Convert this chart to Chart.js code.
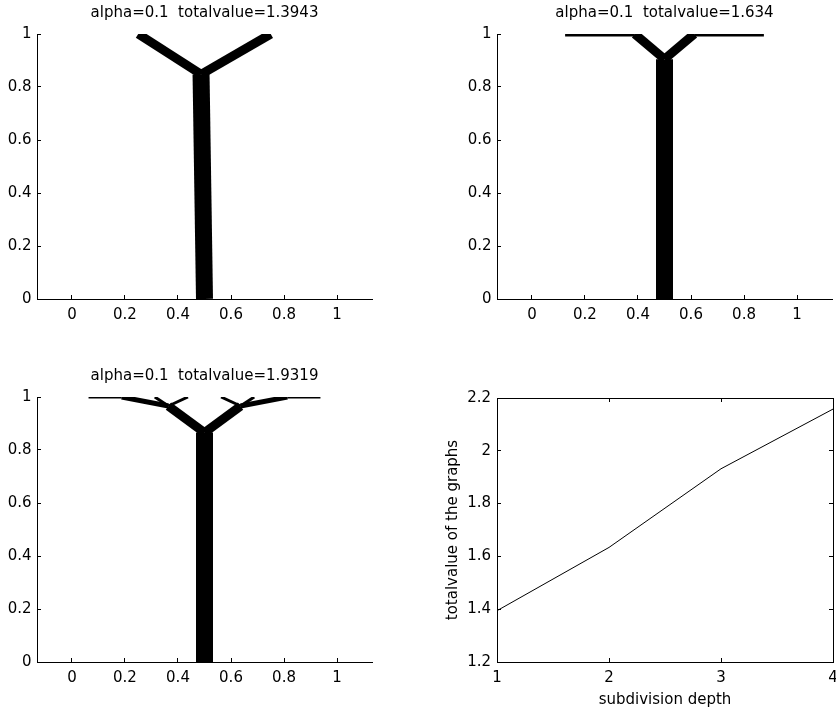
<!DOCTYPE html>
<html>
<head>
<meta charset="utf-8">
<script src="https://cdn.jsdelivr.net/npm/chart.js@4.4.1/dist/chart.umd.min.js"></script>
<style>
html, body { margin: 0; padding: 0; background: #fff; }
body { width: 836px; height: 712px; position: relative; overflow: hidden; }
canvas { position: absolute; }
</style>
</head>
<body>
<canvas id="c1" width="418" height="356" style="left:0px;top:0px"></canvas>
<canvas id="c2" width="418" height="356" style="left:418px;top:0px"></canvas>
<canvas id="c3" width="418" height="349" style="left:0px;top:363px"></canvas>
<canvas id="c4" width="418" height="349" style="left:418px;top:363px"></canvas>
<script>
// ---------------- DATA ----------------
const alphaValue = 0.1;
const depths = [1, 2, 3, 4];
const totalValues = [1.3943, 1.634, 1.9319, 2.158];

// tree segments: [x1, y1, x2, y2, mass]
const tree1Segments = [
  [0.5, 0, 0.487, 0.848, 1],
  [0.487, 0.848, 0.25, 1, 0.5],
  [0.487, 0.848, 0.75, 1, 0.5]
];
const tree2Segments = [
  [0.5, 0, 0.5, 0.905, 1],
  [0.5, 0.905, 0.388, 1, 0.5],
  [0.5, 0.905, 0.612, 1, 0.5],
  [0.388, 1, 0.125, 1, 0.25],
  [0.612, 1, 0.875, 1, 0.25]
];
const tree3Segments = [
  [0.5, 0, 0.5, 0.866, 1],
  [0.5, 0.866, 0.364, 0.966, 0.5],
  [0.5, 0.866, 0.636, 0.966, 0.5],
  [0.364, 0.966, 0.3125, 1, 0.125],
  [0.364, 0.966, 0.4375, 1, 0.125],
  [0.364, 0.966, 0.1875, 1, 0.25],
  [0.1875, 1, 0.0625, 1, 0.125],
  [0.636, 0.966, 0.5625, 1, 0.125],
  [0.636, 0.966, 0.6875, 1, 0.125],
  [0.636, 0.966, 0.8125, 1, 0.25],
  [0.8125, 1, 0.9375, 1, 0.125]
];

const treeXRange = [-0.132, 1.132];
const treeYRange = [0, 1];
const treeXTicks = [0, 0.2, 0.4, 0.6, 0.8, 1];
const treeXTickLabels = ['0', '0.2', '0.4', '0.6', '0.8', '1'];
const treeYTicks = [0, 0.2, 0.4, 0.6, 0.8, 1];
const treeYTickLabels = ['0', '0.2', '0.4', '0.6', '0.8', '1'];

const depthRange = [1, 4];
const depthTicks = [1, 2, 3, 4];
const depthTickLabels = ['1', '2', '3', '4'];
const valueRange = [1.2, 2.2];
const valueTicks = [1.2, 1.4, 1.6, 1.8, 2, 2.2];
const valueTickLabels = ['1.2', '1.4', '1.6', '1.8', '2', '2.2'];

const xAxisTitle = 'subdivision depth';
const yAxisTitle = 'totalvalue of the graphs';

// ---------------- STYLE / LAYOUT ----------------
Chart.defaults.font.family = '"DejaVu Sans", sans-serif';
Chart.defaults.font.size = 15;
Chart.defaults.color = '#000';
Chart.defaults.animation = false;

function widthFromMass(m) { return 1 + 16 * m; }

function fixedTicks(values) {
  return s => { s.ticks = values.map(v => ({ value: v })); };
}

function axis(opts) {
  const { pos, range, ticks, labels, size, showLabels, padding } = opts;
  const horizontal = pos === 'top' || pos === 'bottom';
  return {
    type: 'linear',
    position: pos,
    min: range[0],
    max: range[1],
    afterBuildTicks: fixedTicks(ticks),
    afterFit: s => {
      if (horizontal) s.height = size; else s.width = size;
      s.paddingLeft = 0; s.paddingRight = 0; s.paddingTop = 0; s.paddingBottom = 0;
    },
    ticks: {
      display: showLabels,
      autoSkip: false,
      maxRotation: 0,
      minRotation: 0,
      padding: padding,
      color: '#000',
      font: { size: 15 },
      callback: (v, i) => labels[i]
    },
    grid: { drawOnChartArea: false, drawTicks: true, tickLength: -4, color: '#000', lineWidth: 1 },
    border: { display: true, color: '#000', width: 1 }
  };
}

function treeChart(id, segments, total, padRight, canvasH) {
  const datasets = segments.map(s => ({
    data: [{ x: s[0], y: s[1] }, { x: s[2], y: s[3] }],
    showLine: true,
    borderColor: '#000',
    backgroundColor: '#000',
    borderWidth: widthFromMass(s[4]),
    borderCapStyle: 'butt',
    pointRadius: 0,
    pointHoverRadius: 0,
    fill: false,
    clip: 0
  }));
  return new Chart(document.getElementById(id), {
    type: 'scatter',
    data: { datasets },
    options: {
      responsive: false,
      animation: false,
      events: [],
      layout: { autoPadding: false, padding: { left: 0, right: padRight, top: 0, bottom: 0 } },
      plugins: {
        legend: { display: false },
        tooltip: { enabled: false },
        title: {
          display: true,
          text: 'alpha=' + alphaValue + '  totalvalue=' + total,
          fullSize: false,
          color: '#000',
          font: { size: 15, weight: 'normal' },
          padding: { top: 4, bottom: 12 }
        }
      },
      scales: {
        x: axis({ pos: 'bottom', range: treeXRange, ticks: treeXTicks, labels: treeXTickLabels, size: canvasH - 299, showLabels: true, padding: 11.5 }),
        y: axis({ pos: 'left', range: treeYRange, ticks: treeYTicks, labels: treeYTickLabels, size: 37 + (padRight === 46 ? 0 : 42), showLabels: true, padding: 9.5 })
      }
    }
  });
}

treeChart('c1', tree1Segments, totalValues[0], 46, 356);
treeChart('c2', tree2Segments, totalValues[1], 4, 356);
treeChart('c3', tree3Segments, totalValues[2], 46, 349);

// ---------------- line chart ----------------
const yMain = axis({ pos: 'left', range: valueRange, ticks: valueTicks, labels: valueTickLabels, size: 79, showLabels: true, padding: 10 });
yMain.title = { display: true, text: yAxisTitle, color: '#000', font: { size: 15 }, padding: { top: 26.5, bottom: 0 } };
const xMain = axis({ pos: 'bottom', range: depthRange, ticks: depthTicks, labels: depthTickLabels, size: 50, showLabels: true, padding: 11.5 });
xMain.title = { display: true, text: xAxisTitle, color: '#000', font: { size: 15 }, padding: { top: 0, bottom: 3 } };
const xTop = axis({ pos: 'top', range: depthRange, ticks: depthTicks, labels: depthTickLabels, size: 0, showLabels: false, padding: 0 });
const yRight = axis({ pos: 'right', range: valueRange, ticks: valueTicks, labels: valueTickLabels, size: 0, showLabels: false, padding: 0 });

new Chart(document.getElementById('c4'), {
  type: 'line',
  data: {
    datasets: [{
      data: depths.map((d, i) => ({ x: d, y: totalValues[i] })),
      borderColor: '#000',
      borderWidth: 1,
      pointRadius: 0,
      tension: 0,
      fill: false,
      xAxisID: 'x',
      yAxisID: 'y'
    }]
  },
  options: {
    responsive: false,
    animation: false,
    events: [],
    layout: { autoPadding: false, padding: { left: 0, right: 3, top: 35, bottom: 0 } },
    plugins: { legend: { display: false }, tooltip: { enabled: false } },
    scales: { x: xMain, y: yMain, x2: xTop, y2: yRight }
  }
});
</script>
</body>
</html>
